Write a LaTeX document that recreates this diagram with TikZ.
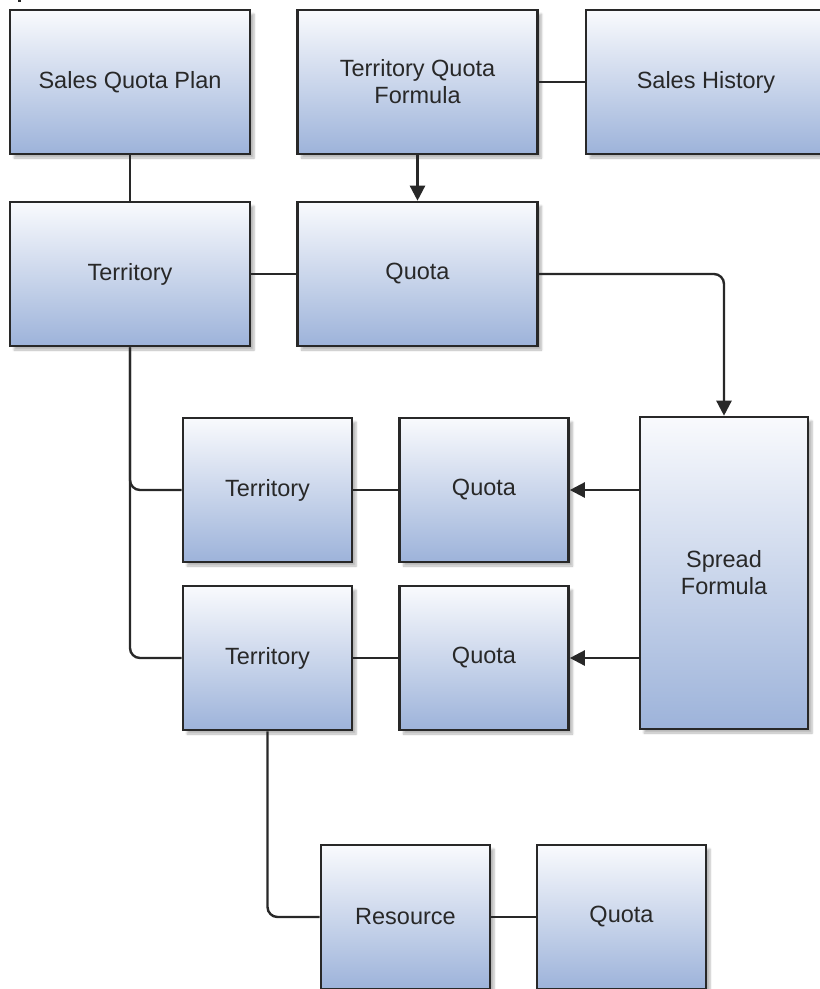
\documentclass[tikz,border=0pt]{standalone}
\usepackage{fontspec}
\setmainfont{Liberation Sans}
\usetikzlibrary{arrows.meta,shadows.blur}
\definecolor{boxtop}{RGB}{249,250,253}
\definecolor{boxbottom}{RGB}{157,179,218}
\definecolor{boxedge}{RGB}{40,40,40}
\definecolor{inktext}{RGB}{40,40,40}
\begin{document}
\begin{tikzpicture}[x=1pt,y=-1pt,
  entity/.style={draw=boxedge, line width=2.6pt, rectangle, inner sep=0pt,
    top color=boxtop, bottom color=boxbottom, text=inktext,
    font=\fontsize{23.5}{27}\selectfont, align=center,
    blur shadow={shadow xshift=4pt, shadow yshift=-4pt, shadow blur steps=6, shadow opacity=28}},
  wide/.style={entity, minimum width=240pt, minimum height=144pt},
  narrow/.style={entity, minimum width=169pt, minimum height=144pt},
  link/.style={draw=boxedge, line width=2.4pt, rounded corners=10pt},
  flow/.style={link, -{Triangle[length=15pt,width=15pt]}}]
\useasboundingbox (0,0) rectangle (820,989);
\clip (0,0) rectangle (820,989);

% top row
\node[wide] (plan) at (130,82) {Sales Quota Plan};
\node[wide] (tqf) at (417.5,82) {Territory Quota\\Formula};
\node[wide] (hist) at (706,82) {Sales History};

% second row
\node[wide] (terr) at (130,274) {Territory};
\node[wide] (quota) at (417.5,274) {Quota};

% spread formula column
\node[entity, minimum width=168pt, minimum height=312pt] (spread) at (724,573) {Spread\\Formula};

% child territories and their quotas
\node[narrow] (terrA) at (267.5,490) {Territory};
\node[narrow] (quotaA) at (484,490) {Quota};
\node[narrow] (terrB) at (267.5,658) {Territory};
\node[narrow] (quotaB) at (484,658) {Quota};

% resource level
\node[narrow] (res) at (405.5,917) {Resource};
\node[narrow] (quotaR) at (621.5,917) {Quota};

% connectors
\draw[link] (plan.south) -- (terr.north);
\draw[link] (tqf.east) -- (hist.west);
\draw[flow] (tqf.south) -- (quota.north);
\draw[link] (terr.east) -- (quota.west);
\draw[flow] (quota.east) -| (spread.north);
\draw[link] (terr.south) |- (terrA.west);
\draw[link] (terr.south) |- (terrB.west);
\draw[link] (terrA.east) -- (quotaA.west);
\draw[link] (terrB.east) -- (quotaB.west);
\draw[flow] (quotaA.east -| spread.west) -- (quotaA.east);
\draw[flow] (quotaB.east -| spread.west) -- (quotaB.east);
\draw[link] (terrB.south) |- (res.west);
\draw[link] (res.east) -- (quotaR.west);

% small dark mark at the top edge
\fill[boxedge] (18,0) rectangle (20.5,2);
\end{tikzpicture}
\end{document}
